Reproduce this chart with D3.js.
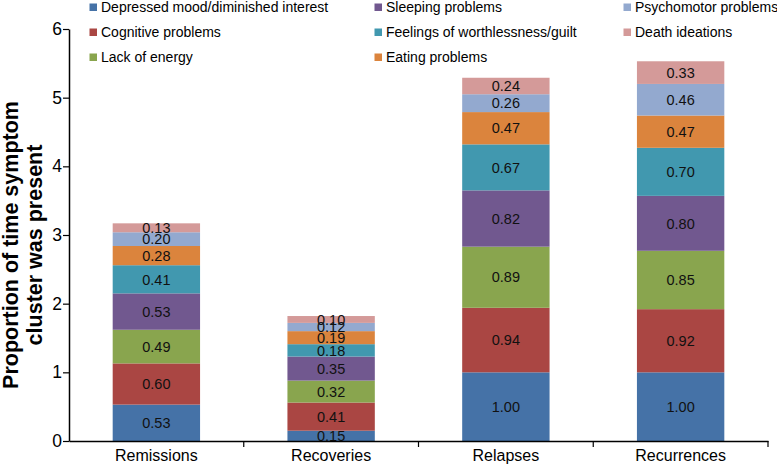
<!DOCTYPE html>
<html><head><meta charset="utf-8">
<script src="https://cdn.jsdelivr.net/npm/d3@7"></script>
<style>body{margin:0;background:#fff;} svg{display:block;font-family:"Liberation Sans",Arial,sans-serif;}</style>
</head><body>
<svg id="c" width="777" height="469"></svg>
<script>
const categories = ["Remissions","Recoveries","Relapses","Recurrences"];
const seriesNames = ["Depressed mood/diminished interest","Cognitive problems","Lack of energy","Sleeping problems","Feelings of worthlessness/guilt","Eating problems","Psychomotor problems","Death ideations"];
const depressed   = [0.53,0.15,1.00,1.00];
const cognitive   = [0.60,0.41,0.94,0.92];
const energy      = [0.49,0.32,0.89,0.85];
const sleeping    = [0.53,0.35,0.82,0.80];
const worthless   = [0.41,0.18,0.67,0.70];
const eating      = [0.28,0.19,0.47,0.47];
const psychomotor = [0.20,0.12,0.26,0.46];
const death       = [0.13,0.10,0.24,0.33];
const yTicks = [0,1,2,3,4,5,6];
const colors = ["#4572A7","#AA4643","#89A54E","#71588F","#4198AF","#DB843D","#93A9CF","#D49A99"];

const seriesVals = [depressed,cognitive,energy,sleeping,worthless,eating,psychomotor,death];
const keys = seriesNames;
const table = categories.map((c,i)=>{const o={cat:c}; keys.forEach((k,j)=>o[k]=seriesVals[j][i]); return o;});
const stack = d3.stack().keys(keys)(table);

const svg = d3.select("#c");
const x = d3.scaleBand().domain(categories).range([69,768]).paddingInner(0.5).paddingOuter(0.25);
const y = d3.scaleLinear().domain([0,6]).range([441,29]);
const color = d3.scaleOrdinal().domain(keys).range(colors);
const FF = "Liberation Sans, Arial, sans-serif";

// bars
const g = svg.append("g");
stack.forEach(s=>{
  g.selectAll(null).data(s).enter().append("rect")
    .attr("x",d=>x(d.data.cat)).attr("width",x.bandwidth())
    .attr("y",d=>y(d[1])).attr("height",d=>y(d[0])-y(d[1]))
    .attr("fill",color(s.key));
});
stack.forEach(s=>{
  g.selectAll(null).data(s).enter().append("text")
    .attr("x",d=>x(d.data.cat)+x.bandwidth()/2)
    .attr("y",d=>(y(d[0])+y(d[1]))/2)
    .attr("dy","0.36em").attr("text-anchor","middle")
    .attr("font-size",14.5).attr("fill","#111")
    .text(d=>(d[1]-d[0]).toFixed(2));
});

// y axis
const ya = svg.append("g").attr("transform","translate(69,0)")
  .call(d3.axisLeft(y).tickValues(yTicks).tickFormat(d3.format("d")).tickSize(6).tickSizeOuter(0));
ya.select(".domain").attr("stroke","#000").attr("stroke-width",1.5);
ya.selectAll(".tick line").attr("stroke","#000").attr("stroke-width",1.2);
ya.selectAll(".tick text").attr("font-size",17.5).attr("fill","#000").attr("font-family",FF).attr("x",-7);

// x axis
const xa = svg.append("g").attr("transform","translate(0,441)")
  .call(d3.axisBottom(x).tickSize(0).tickSizeOuter(0));
xa.select(".domain").attr("stroke","#000").attr("stroke-width",1.5);
xa.selectAll(".tick text").attr("font-size",16).attr("fill","#000").attr("font-family",FF).attr("dy","1.05em");
// category separator ticks
const bounds = d3.range(1,categories.length+1).map(i=>69+i*(768-69)/categories.length);
svg.append("g").selectAll("line").data(bounds).enter().append("line")
  .attr("x1",d=>d).attr("x2",d=>d).attr("y1",441).attr("y2",447)
  .attr("stroke","#000").attr("stroke-width",1.2);

// y title
const yt = svg.append("text").attr("transform","translate(0,245) rotate(-90)")
  .attr("text-anchor","middle").attr("font-size",21.5).attr("font-weight","bold").attr("fill","#000");
yt.append("tspan").attr("x",0).attr("y",18).text("Proportion of time symptom");
yt.append("tspan").attr("x",0).attr("y",42).text("cluster was present");

// legend
const legPos = [[93,7],[93,32],[93,57],[378,7],[378,32],[378,57],[627,7],[627,32]];
const lg = svg.append("g");
keys.forEach((k,i)=>{
  const [lx,ly] = legPos[i];
  lg.append("rect").attr("x",lx-3.5).attr("y",ly-3.5).attr("width",7.5).attr("height",7.5).attr("fill",color(k));
  lg.append("text").attr("x",lx+8).attr("y",ly).attr("dy","0.36em").attr("font-size",14).attr("fill","#000").text(k);
});
</script>
</body></html>
